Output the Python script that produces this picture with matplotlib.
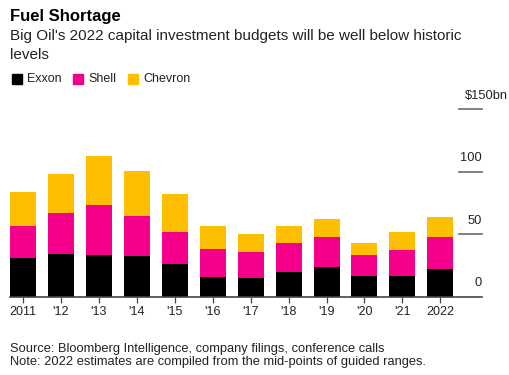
import matplotlib
matplotlib.use("Agg")
import matplotlib.pyplot as plt
import numpy as np
from matplotlib.patches import Rectangle

plt.rcParams['font.family'] = ['Liberation Sans', 'DejaVu Sans']

years = ['2011', "'12", "'13", "'14", "'15", "'16", "'17", "'18", "'19", "'20", "'21", '2022']
exxon = [31.1, 34.1, 33.3, 32.5, 26.1, 15.9, 14.8, 19.4, 23.9, 16.7, 16.4, 22.3]
shell = [25.7, 33.1, 40.1, 32.1, 25.9, 22.2, 20.6, 23.8, 23.6, 16.8, 20.9, 25.2]
chevron = [26.8, 30.8, 38.7, 35.5, 30.2, 18.4, 14.4, 13.4, 14.4, 9.6, 14.2, 16.0]
yticks = [0, 50, 100, 150]
ytick_labels = ['0', '50', '100', '$150bn']

c_exxon = '#000000'
c_shell = '#f5008b'
c_chev = '#fdbf00'

W, H = 510, 375
fig = plt.figure(figsize=(5.1, 3.75), dpi=100)

# axes placed in pixel terms
left, right = 10 / W, 481.7 / W
bottom, top = 1 - 296.6 / H, 1 - 109 / H
ax = fig.add_axes([left, bottom, right - left, top - bottom])

x = np.arange(len(years))
w = 0.685
ax.bar(x, exxon, w, color=c_exxon)
ax.bar(x, shell, w, bottom=exxon, color=c_shell)
ax.bar(x, chevron, w, bottom=np.array(exxon) + np.array(shell), color=c_chev)

ax.set_xlim(-w / 2, 12.09)
ax.set_ylim(0, 150)

for s in ['top', 'right', 'left']:
    ax.spines[s].set_visible(False)
ax.spines['bottom'].set_color('#444444')
ax.spines['bottom'].set_linewidth(1.2)

ax.set_xticks(x)
ax.set_xticklabels(years, fontsize=9, color='#222222')
ax.tick_params(axis='x', length=4, width=0.9, color='#444444', pad=3)
ax.set_yticks([])

# short gridline stubs with labels on the right
for v, lab in zip(yticks, ytick_labels):
    if v > 0:
        ax.plot([11.5, 12.09], [v, v], color='#777777', lw=1.3, clip_on=False)
    if lab.startswith('$'):
        ax.text(12.09 + 0.69, v + 10.5, lab, fontsize=9.3, color='#222222',
                ha='right', va='center')
    else:
        ax.text(12.09, v + 10.5, lab, fontsize=9.3, color='#222222',
                ha='right', va='center')

# titles
fig.text(10 / W, 1 - 16 / H, 'Fuel Shortage', fontsize=12, fontweight='bold',
         ha='left', va='center')
fig.text(10 / W, 1 - 36 / H,
         "Big Oil's 2022 capital investment budgets will be well below historic",
         fontsize=11, color='#222222', ha='left', va='center')
fig.text(10 / W, 1 - 55 / H, 'levels', fontsize=11, color='#222222',
         ha='left', va='center')

# legend
legend_items = [('Exxon', c_exxon, 12), ('Shell', c_shell, 73), ('Chevron', c_chev, 128)]
for name, col, px in legend_items:
    fig.patches.append(Rectangle((px / W, 1 - 84 / H), 10 / W, 10 / H,
                                 transform=fig.transFigure, color=col))
    fig.text((px + 15) / W, 1 - 79 / H, name, fontsize=9, color='#222222',
             ha='left', va='center')

# footnotes
fig.text(10 / W, 1 - 349 / H,
         'Source: Bloomberg Intelligence, company filings, conference calls',
         fontsize=9.3, color='#222222', ha='left', va='center')
fig.text(10 / W, 1 - 362 / H,
         'Note: 2022 estimates are compiled from the mid-points of guided ranges.',
         fontsize=9.3, color='#222222', ha='left', va='center')

fig.savefig('out.png', dpi=100)
